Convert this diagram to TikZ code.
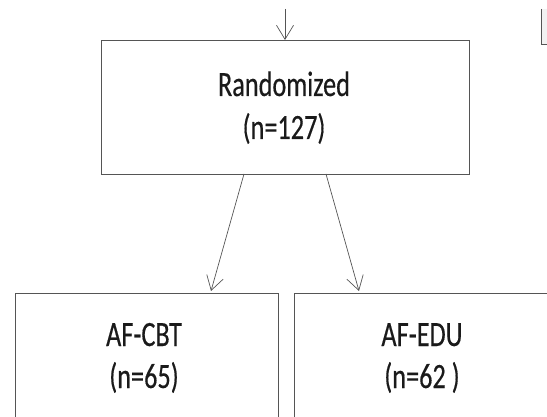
\documentclass[tikz,border=0pt]{standalone}
\usepackage{fontspec}
\setmainfont[FakeStretch=0.74,FakeBold=0.4]{Carlito}
\usetikzlibrary{arrows.meta}
\definecolor{lin}{HTML}{555555}
\definecolor{txt}{HTML}{1A1A1A}
\tikzset{
  box/.style={draw=lin, line width=0.9pt, fill=white, inner sep=0pt, anchor=north west},
  lbl/.style={text=txt, font=\fontsize{35.5}{42}\selectfont, inner sep=0pt, anchor=base},
  arr/.style={draw=lin, line width=0.7pt, -{Straight Barb[length=14pt,width=17pt,line width=0.7pt]}}
}
\begin{document}
\begin{tikzpicture}[x=1pt,y=-1pt]
\useasboundingbox (0,0) rectangle (547,417);
\clip (0,0) rectangle (547,417);
% randomized box
\node[box, minimum width=368pt, minimum height=134pt] (rand) at (101,40) {};
\node[lbl] (randa) at (284,96) {Randomized};
\node[lbl] (randb) at (284,139) {(n=127)};
% bottom boxes
\node[box, minimum width=263pt, minimum height=160pt] (cbt) at (15,293) {};
\node[lbl] (cbta) at (144,346) {AF-CBT};
\node[lbl] (cbtb) at (144,388) {(n=65)};
\node[box, minimum width=300pt, minimum height=160pt] (edu) at (294,293) {};
\node[lbl] (edua) at (422,346) {AF-EDU};
\node[lbl] (edub) at (422,388) {(n=62 )};
% small box top right
\node[box, draw=none, fill=black!5, minimum width=20pt, minimum height=35pt] (corner) at (541,9) {};
\draw[lin, line width=0.9pt] (corner.north west) -- (corner.south west) -- (corner.south east);
% arrows
\coordinate (top) at (285,9);
\draw[arr] (top) -- (rand.north -| top);
\coordinate (l1) at (244,174);
\coordinate (l2) at (211,291);
\coordinate (r1) at (326,174);
\coordinate (r2) at (359,291);
\draw[arr] (l1) -- (l2);
\draw[arr] (r1) -- (r2);
\end{tikzpicture}
\end{document}
